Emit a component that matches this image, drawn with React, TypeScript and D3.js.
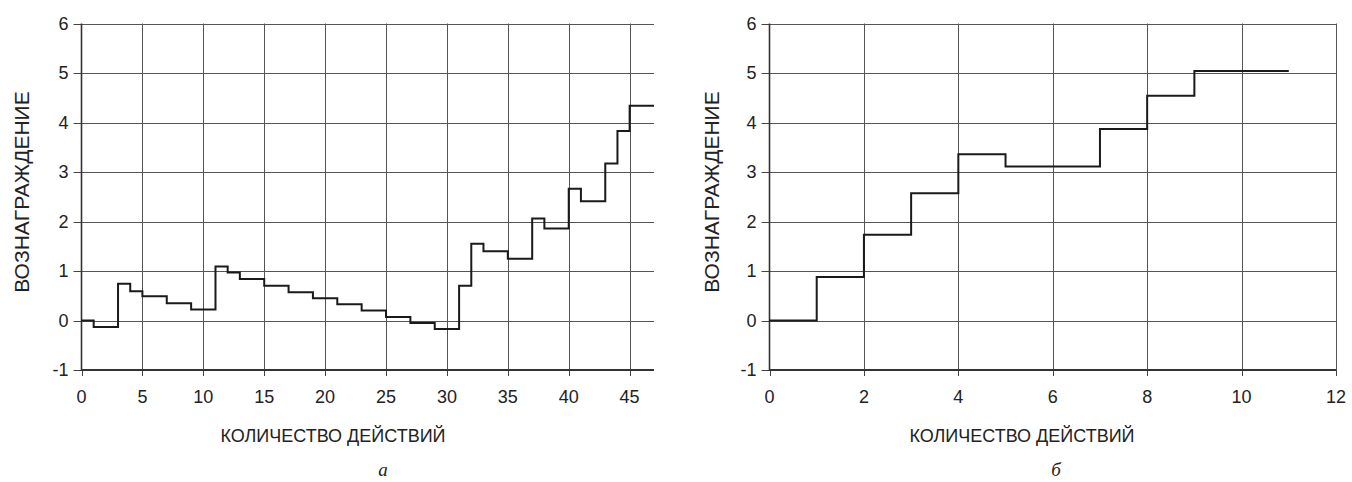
import React from "react";
import * as d3 from "d3";

const leftX = [0, 1, 3, 4, 5, 7, 9, 11, 12, 13, 15, 17, 19, 21, 23, 25, 27, 29, 31, 32, 33, 35, 37, 38, 40, 41, 43, 44, 45, 47];
const leftY = [0, -0.13, 0.74, 0.59, 0.49, 0.35, 0.22, 1.09, 0.97, 0.84, 0.7, 0.57, 0.45, 0.33, 0.2, 0.07, -0.05, -0.17, 0.7, 1.55, 1.4, 1.25, 2.06, 1.86, 2.66, 2.41, 3.17, 3.83, 4.34, 4.34];
const leftXTicks = [0, 5, 10, 15, 20, 25, 30, 35, 40, 45];

const rightX = [0, 1, 2, 3, 4, 5, 7, 8, 9, 11];
const rightY = [0, 0.88, 1.73, 2.57, 3.36, 3.11, 3.87, 4.54, 5.04, 5.04];
const rightXTicks = [0, 2, 4, 6, 8, 10, 12];

const yTicks = [-1, 0, 1, 2, 3, 4, 5, 6];
const yTitle = "ВОЗНАГРАЖДЕНИЕ";
const xTitle = "КОЛИЧЕСТВО ДЕЙСТВИЙ";
const panelLabels = ["а", "б"];

const FONT = "'Liberation Sans', Arial, sans-serif";

type PanelProps = {
  xs: number[];
  ys: number[];
  xTicks: number[];
  xMax: number;
  x0: number;
  x1: number;
  yTitleX: number;
  xTitleX: number;
  label: string;
  labelX: number;
  rightBorder: boolean;
};

function Panel(p: PanelProps) {
  const y = d3.scaleLinear().domain([-1, 6]).range([370, 23.5]);
  const x = d3.scaleLinear().domain([0, p.xMax]).range([p.x0, p.x1]);
  const pts = p.xs.map((v, i) => [v, p.ys[i]] as [number, number]);
  const line = d3
    .line<[number, number]>()
    .x((d) => x(d[0]))
    .y((d) => y(d[1]))
    .curve(d3.curveStepAfter);
  const r = (v: number) => Math.round(v) + 0.5;
  return (
    <g>
      {yTicks.map((t) => (
        <g key={"y" + t}>
          {t > -1 && (
            <line x1={p.x0} x2={p.x1} y1={r(y(t))} y2={r(y(t))} stroke="#555" strokeWidth={1} />
          )}
          <line x1={p.x0 - 8} x2={p.x0} y1={r(y(t))} y2={r(y(t))} stroke="#444" strokeWidth={1} />
          <text x={p.x0 - 13} y={y(t)} dy="0.35em" textAnchor="end" fontSize={18} fontFamily={FONT} fill="#222">
            {t}
          </text>
        </g>
      ))}
      {p.xTicks.map((t) => (
        <g key={"x" + t}>
          {t > 0 && (t < p.xMax || p.rightBorder) && (
            <line x1={r(x(t))} x2={r(x(t))} y1={y(6)} y2={y(-1)} stroke="#555" strokeWidth={1} />
          )}
          <line x1={r(x(t))} x2={r(x(t))} y1={y(-1)} y2={y(-1) + 6} stroke="#444" strokeWidth={1} />
          <text x={x(t)} y={397} dy="0.35em" textAnchor="middle" fontSize={18} fontFamily={FONT} fill="#222">
            {t}
          </text>
        </g>
      ))}
      <line x1={p.x0} x2={p.x0} y1={y(6)} y2={y(-1) + 1} stroke="#333" strokeWidth={1.6} />
      <line x1={p.x0} x2={p.x1} y1={y(-1)} y2={y(-1)} stroke="#333" strokeWidth={2} />
      <path d={line(pts) || ""} fill="none" stroke="#1a1a1a" strokeWidth={2} />
      <text
        transform={`translate(${p.yTitleX},192) rotate(-90)`}
        dy="0.35em"
        textAnchor="middle"
        fontSize={21}
        fontFamily={FONT}
        fill="#222"
      >
        {yTitle}
      </text>
      <text x={p.xTitleX} y={436} dy="0.35em" textAnchor="middle" fontSize={18} fontFamily={FONT} fill="#222">
        {xTitle}
      </text>
      <text x={p.labelX} y={469} dy="0.35em" textAnchor="middle" fontSize={19} fontStyle="italic" fontFamily="'Liberation Serif', 'Times New Roman', serif" fill="#222">
        {p.label}
      </text>
    </g>
  );
}

export default function App() {
  return (
    <svg width={1352} height={482} style={{ position: "absolute", left: 0, top: 0, background: "#fff" }}>
      <rect width={1352} height={482} fill="#fff" />
      <Panel xs={leftX} ys={leftY} xTicks={leftXTicks} xMax={47} x0={81.5} x1={654} yTitleX={22} xTitleX={333} label={panelLabels[0]} labelX={383} rightBorder={false} />
      <Panel xs={rightX} ys={rightY} xTicks={rightXTicks} xMax={12} x0={769.5} x1={1336} yTitleX={712} xTitleX={1022} label={panelLabels[1]} labelX={1056} rightBorder={true} />
    </svg>
  );
}
